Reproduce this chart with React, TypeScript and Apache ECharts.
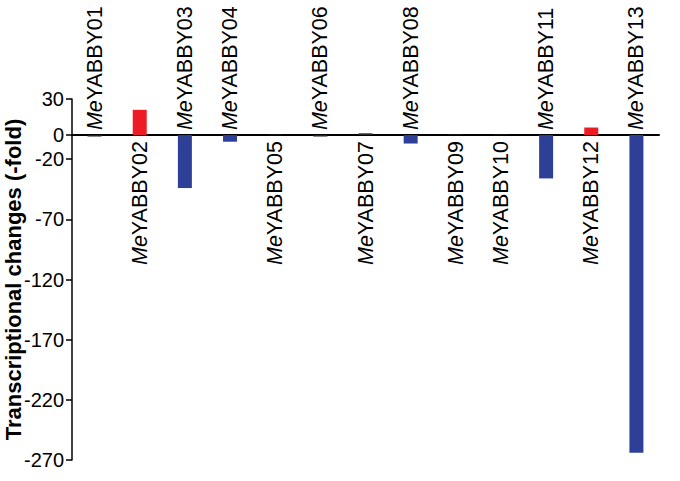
import React, { useEffect, useRef } from "react";
import * as echarts from "echarts";

const categories = [
  "MeYABBY01", "MeYABBY02", "MeYABBY03", "MeYABBY04", "MeYABBY05",
  "MeYABBY06", "MeYABBY07", "MeYABBY08", "MeYABBY09", "MeYABBY10",
  "MeYABBY11", "MeYABBY12", "MeYABBY13",
];
const foldChanges = [-1.2, 21, -44, -5.5, 0.4, -1.2, 1.5, -7, 0.4, 0.4, -36, 6.3, -264];
const yTickValues = [30, 0, -20, -70, -120, -170, -220, -270];
const yMin = -270;
const yMax = 30;
const yTitle = "Transcriptional changes (-fold)";

const FONT = '"Liberation Sans", Arial, Helvetica, sans-serif';

function barColor(v: number): string {
  if (Math.abs(v) < 2) return "#2a2a2a";
  return v > 0 ? "#ec1c24" : "#2e3f98";
}

function labelFmt(v: string): string {
  return `{i|${v.slice(0, 2)}}{n|${v.slice(2)}}`;
}

const rich = {
  i: { fontStyle: "italic" as const, fontSize: 21.5, fontFamily: FONT, color: "#000" },
  n: { fontSize: 21.5, fontFamily: FONT, color: "#000" },
};

export default function App() {
  const ref = useRef<HTMLDivElement>(null);
  useEffect(() => {
    if (!ref.current) return;
    const chart = echarts.init(ref.current, undefined, { renderer: "svg" });
    chart.setOption({
      animation: false,
      backgroundColor: "#fff",
      grid: {
        left: 72,
        right: 21,
        top: 99,
        bottom: 21,
        containLabel: false,
        outerBoundsMode: "none",
      },
      xAxis: [
        {
          // labels of up-regulated genes, shown under the zero line
          type: "category",
          data: categories,
          position: "bottom",
          axisLine: { show: true, onZero: false, lineStyle: { color: "#000", width: 2 } },
          axisTick: { show: false },
          splitLine: { show: false },
          axisLabel: {
            interval: (i: number) => foldChanges[i] >= 0,
            rotate: 90,
            margin: 6,
            formatter: labelFmt,
            rich,
          },
        },
        {
          // labels of down-regulated genes, shown above the zero line
          type: "category",
          data: categories,
          position: "top",
          axisLine: { show: false, onZero: false },
          axisTick: { show: false },
          splitLine: { show: false },
          axisLabel: {
            interval: (i: number) => foldChanges[i] < 0,
            rotate: -90,
            margin: 5,
            formatter: labelFmt,
            rich,
          },
        },
      ],
      yAxis: {
        type: "value",
        min: yMin,
        max: yMax,
        position: "left",
        name: yTitle,
        nameLocation: "middle",
        nameRotate: 90,
        nameGap: 48,
        nameMoveOverlap: false,
        nameTextStyle: { fontFamily: FONT, fontWeight: "bold", fontSize: 22, color: "#000" },
        axisLine: { show: true, lineStyle: { color: "#000", width: 1.5 } },
        axisTick: { show: true, length: 6, customValues: yTickValues, lineStyle: { color: "#000", width: 1.5 } },
        axisLabel: {
          customValues: yTickValues,
          fontFamily: FONT,
          fontSize: 20,
          color: "#000",
          margin: 8,
        },
        splitLine: { show: false },
      },
      series: [
        {
          type: "bar",
          xAxisIndex: 0,
          barWidth: 14,
          data: foldChanges.map((v) => ({ value: v, itemStyle: { color: barColor(v) } })),
        },
      ],
    });
    // Move both category axes onto the value 0 line using the chart's own scale.
    const zeroY = chart.convertToPixel({ yAxisIndex: 0 }, 0) as number;
    const bottomY = chart.convertToPixel({ yAxisIndex: 0 }, yMin) as number;
    const topY = chart.convertToPixel({ yAxisIndex: 0 }, yMax) as number;
    chart.setOption({
      xAxis: [{ offset: -(bottomY - zeroY) }, { offset: -(zeroY - topY) }],
    });
    return () => chart.dispose();
  }, []);
  return (
    <div
      ref={ref}
      style={{ position: "absolute", left: 0, top: 0, width: 680, height: 481 }}
    />
  );
}
